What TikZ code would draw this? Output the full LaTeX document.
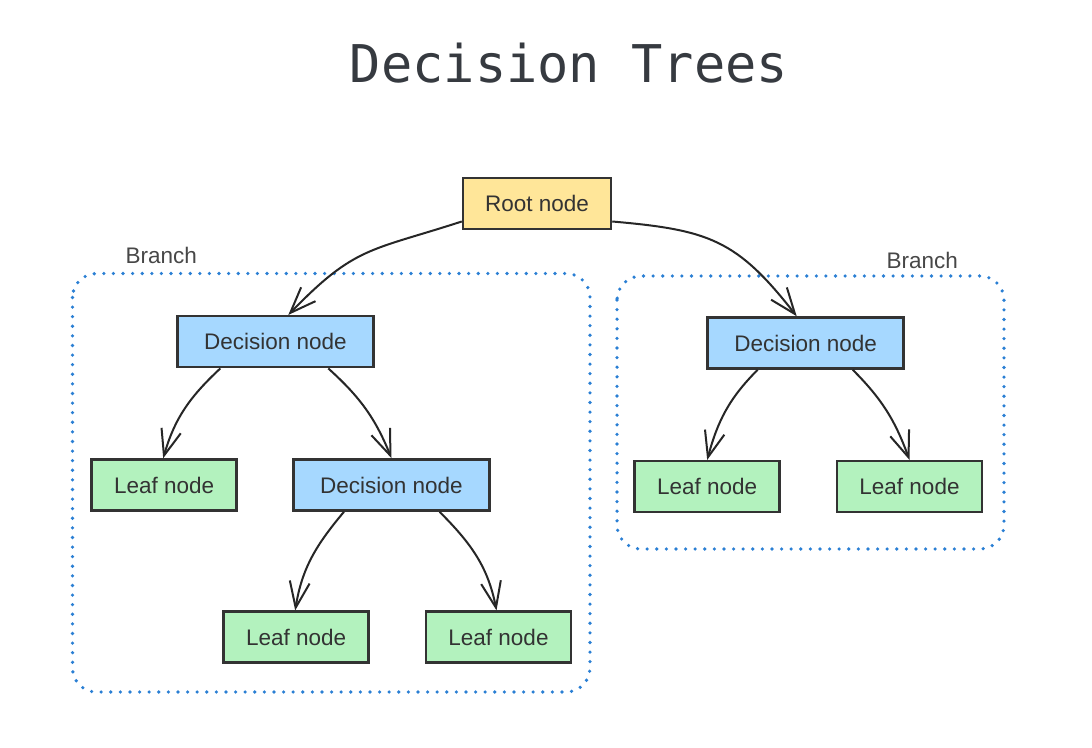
\documentclass[tikz,border=0pt]{standalone}
\usepackage{fontspec}
\setmainfont{Liberation Sans}
\newfontfamily\titlefont{DejaVu Sans Mono}
\usetikzlibrary{arrows.meta}
\definecolor{rootfill}{HTML}{FFE699}
\definecolor{decisionfill}{HTML}{A6D8FF}
\definecolor{leaffill}{HTML}{B3F2BE}
\definecolor{branchblue}{HTML}{2A7FD4}
\definecolor{textgray}{HTML}{333333}
\definecolor{titlegray}{HTML}{363A40}
\begin{document}
\begin{tikzpicture}[x=1pt,y=1pt,
  box/.style={draw=textgray, line width=2.5pt, inner sep=0pt, minimum height=51pt,
    text=textgray, font=\fontsize{22.5}{27}\selectfont},
  rootnode/.style={box, fill=rootfill, minimum width=148pt},
  decision/.style={box, fill=decisionfill, minimum width=196pt},
  leaf/.style={box, fill=leaffill, minimum width=145pt},
  branch/.style={draw=branchblue, line width=3.6pt, line cap=round,
    dash pattern=on 0pt off 9.6pt, rounded corners=24pt},
  branchlabel/.style={anchor=base, text=textgray!90, font=\fontsize{22.5}{27}\selectfont},
  link/.style={draw=black!85, line width=2pt,
    -{Straight Barb[length=26pt,width=20pt]}}]
\useasboundingbox[fill=white] (0,0) rectangle (1092,747);

% Title
\node[anchor=base, text=titlegray, font=\titlefont\fontsize{52}{60}\selectfont]
  (title) at (569,664.3) {Decision Trees};

% Branches
\draw[branch] (72.5,473.5) rectangle (590,55);
\draw[branch] (617,471) rectangle (1004,198);
\node[branchlabel] (branchL) at (161.2,483) {Branch};
\node[branchlabel] (branchR) at (922.3,478.7) {Branch};

% Nodes
\node[rootnode] (root) at (537,543.5) {Root node};
\node[decision] (decL) at (275.3,405.3) {Decision node};
\node[decision] (decR) at (805.7,404) {Decision node};
\node[leaf] (leafL) at (164.2,262) {Leaf node};
\node[decision] (decM) at (391.5,262) {Decision node};
\node[leaf] (leafM1) at (296.2,109.8) {Leaf node};
\node[leaf] (leafM2) at (498.5,109.8) {Leaf node};
\node[leaf] (leafR1) at (707.2,260.3) {Leaf node};
\node[leaf] (leafR2) at (909.5,260.3) {Leaf node};

% Edges
\draw[link] ([yshift=-18pt]root.west) to[out=198,in=46,looseness=1.25] ([xshift=13pt]decL.north);
\draw[link] ([yshift=-18pt]root.east) to[out=-5,in=128,looseness=1.2] ([xshift=-9pt]decR.north);
\draw[link] ([xshift=-55pt]decL.south) to[out=-137,in=74] ([xshift=-1pt]leafL.north);
\draw[link] ([xshift=53pt]decL.south) to[out=-42,in=112] (decM.north);
\draw[link] ([xshift=-47.5pt]decM.south) to[out=-130,in=81] ([xshift=-1pt]leafM1.north);
\draw[link] ([xshift=48pt]decM.south) to[out=-45,in=101] ([xshift=-2pt]leafM2.north);
\draw[link] ([xshift=-48pt]decR.south) to[out=-135,in=75] (leafR1.north);
\draw[link] ([xshift=47pt]decR.south) to[out=-45,in=110] (leafR2.north);
\end{tikzpicture}
\end{document}
